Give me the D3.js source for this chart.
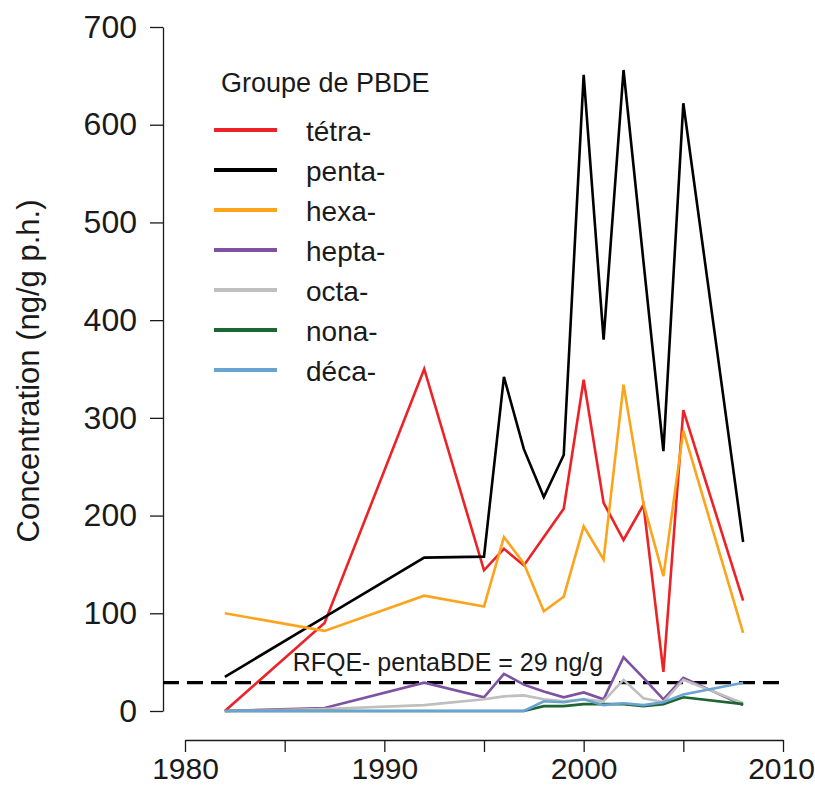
<!DOCTYPE html>
<html>
<head>
<meta charset="utf-8">
<script src="https://cdn.jsdelivr.net/npm/d3@7"></script>
<style>
  html, body { margin: 0; padding: 0; background: #fff; }
  svg text { font-family: "Liberation Sans", Arial, Helvetica, sans-serif; fill: #1a1a1a; }
</style>
</head>
<body>
<svg id="chart" width="815" height="788"></svg>
<script>
// ---- data ----
const years = [1982, 1987, 1992, 1995, 1996, 1997, 1998, 1999, 2000, 2001, 2002, 2003, 2004, 2005, 2008];
const tetra = [0, 90, 350, 144, 166, 149, 178, 207, 339, 213, 175, 211, 40, 308, 113];
const penta = [35, 96, 157, 158, 342, 268, 219, 262, 651, 380, 656, 460, 266, 622, 173];
const hexa  = [100, 82, 118, 107, 178, 151, 102, 117, 189, 155, 334, 212, 138, 287, 80];
const hepta = [0, 3, 29, 14, 38, 27, 20, 14, 19, 12, 55, 34, 12, 34, 6];
const octa  = [0, 2, 6, 12, 15, 16, 12, 10, 12, 10, 32, 13, 9, 32, 8];
const nona  = [0, 0, 0, 0, 0, 0, 5, 5, 7, 7, 7, 5, 7, 14, 7];
const deca  = [0, 0, 0, 0, 0, 0, 10, 9, 12, 6, 8, 6, 9, 17, 29];
const seriesNames = ["tétra-", "penta-", "hexa-", "hepta-", "octa-", "nona-", "déca-"];
const seriesValues = [tetra, penta, hexa, hepta, octa, nona, deca];
const seriesColors = ["#ec2227", "#000000", "#fba41c", "#7d52a3", "#bfbfbf", "#1c6632", "#69a3d2"];
const yTicks = [0, 100, 200, 300, 400, 500, 600, 700];
const xTicks = [1980, 1985, 1990, 1995, 2000, 2005, 2010];
const xLabelTicks = [1980, 1990, 2000, 2010];
const threshold = 29;
const thresholdLabel = "RFQE- pentaBDE = 29 ng/g";
const yTitle = "Concentration (ng/g p.h.)";
const legendTitle = "Groupe de PBDE";

// ---- scales ----
const svg = d3.select("#chart");
const x = d3.scaleLinear().domain([1980, 2010]).range([185, 783]);
const y = d3.scaleLinear().domain([0, 700]).range([711, 27]);
const yAxisX = 163;
const xAxisY = 740;

// ---- axes ----
const yAxis = svg.append("g")
  .attr("transform", `translate(${yAxisX},0)`)
  .call(d3.axisLeft(y).tickValues(yTicks).tickSize(13).tickSizeOuter(0).tickPadding(13));
const xAxis = svg.append("g")
  .attr("transform", `translate(0,${xAxisY})`)
  .call(d3.axisBottom(x).tickValues(xTicks).tickSize(12).tickSizeOuter(0).tickPadding(6)
    .tickFormat(d => xLabelTicks.includes(d) ? String(d) : ""));
[yAxis, xAxis].forEach(g => {
  g.selectAll("path, line").attr("stroke", "#1a1a1a").attr("stroke-width", 1.3);
  g.selectAll("text").attr("fill", "#1a1a1a");
});
yAxis.selectAll("text").style("font-size", "32px");
xAxis.selectAll("text").style("font-size", "30px");
xAxis.selectAll(".tick").filter(d => d === 2010).select("text").attr("dx", "-2");

// y title
svg.append("text")
  .attr("transform", `translate(39,${(y(0) + y(700)) / 2 + 2}) rotate(-90)`)
  .attr("text-anchor", "middle")
  .style("font-size", "31px")
  .text(yTitle);

// ---- threshold line ----
svg.append("line")
  .attr("x1", yAxisX).attr("x2", x(2010) + 2)
  .attr("y1", y(threshold)).attr("y2", y(threshold))
  .attr("stroke", "#000").attr("stroke-width", 3.2)
  .attr("stroke-dasharray", "16,8");

svg.append("text")
  .attr("x", x(1985.4)).attr("y", y(threshold) - 12)
  .style("font-size", "25px")
  .text(thresholdLabel);

// ---- series ----
const line = d3.line().x((d, i) => x(years[i])).y(d => y(d));
seriesValues.forEach((vals, k) => {
  svg.append("path")
    .datum(vals)
    .attr("d", line)
    .attr("fill", "none")
    .attr("stroke", seriesColors[k])
    .attr("stroke-width", 2.6)
    .attr("stroke-linejoin", "miter");
});

// ---- legend ----
const legend = svg.append("g");
legend.append("text")
  .attr("x", 221).attr("y", 92)
  .style("font-size", "27px")
  .text(legendTitle);
const ly = d3.scaleLinear().domain([0, 6]).range([130, 370]);
seriesNames.forEach((name, k) => {
  legend.append("line")
    .attr("x1", 214).attr("x2", 277)
    .attr("y1", ly(k)).attr("y2", ly(k))
    .attr("stroke", seriesColors[k]).attr("stroke-width", 4);
  legend.append("text")
    .attr("x", 306).attr("y", ly(k) + 11)
    .style("font-size", "28px")
    .text(name);
});
</script>
</body>
</html>
